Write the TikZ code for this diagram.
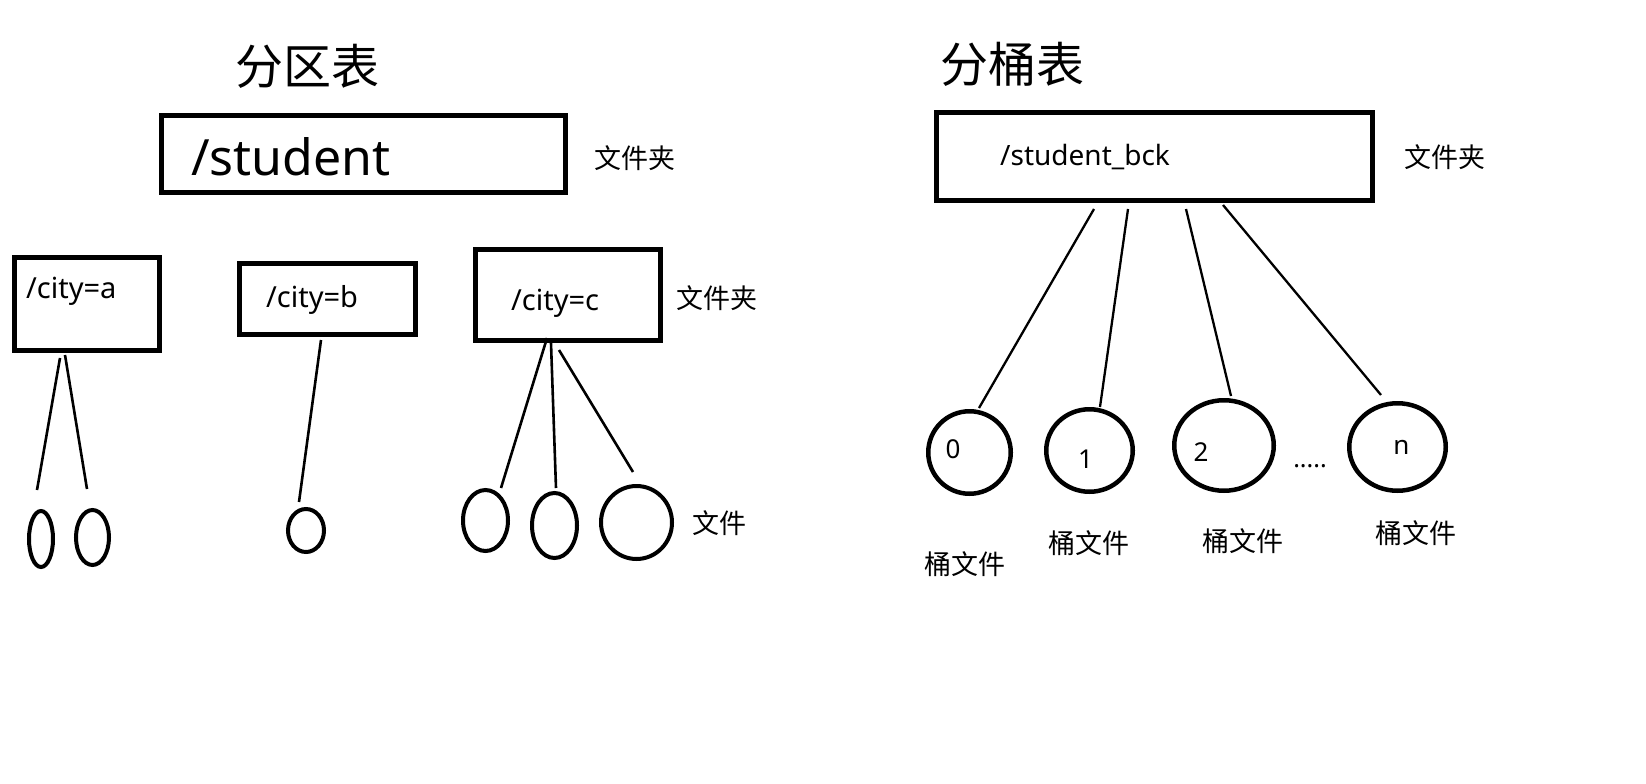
\documentclass[tikz,border=0pt]{standalone}
\usepackage{fontspec}
\setmainfont{Noto Sans}
\newfontfamily\cjk{Noto Sans CJK SC}
\usetikzlibrary{shapes.geometric}
\newcommand{\fs}[1]{\fontsize{#1}{#1}\selectfont}
\begin{document}
\begin{tikzpicture}[x=1pt,y=-1pt,
  folder/.style={draw, line width=4.6pt, rectangle, inner sep=0pt},
  leaf/.style={draw, line width=4pt, ellipse, inner sep=0pt},
  bucket/.style={draw, line width=4.5pt, ellipse, inner sep=0pt},
  conn/.style={line width=2.6pt},
  bconn/.style={line width=2.3pt},
  latin/.style={inner sep=0pt, anchor=base west},
  cjklabel/.style={inner sep=0pt, font=\cjk\fs{27}},
  title/.style={inner sep=0pt, font=\cjk\fs{48}},
  num/.style={inner sep=0pt, font=\fs{26}}]
\fill[white] (0,0) rectangle (1646,784);
\useasboundingbox (0,0) rectangle (1646,784);

% ---------- left: partition table ----------
\node[title] (t1) at (307.5,66.5) {分区表};
\node[folder, minimum width=404pt, minimum height=77pt] (stu) at (363.5,154) {};
\node[latin, font=\fs{50}] (stutxt) at (191,175) {/student};
\node[cjklabel] (f1) at (635,158) {文件夹};

\node[folder, minimum width=145.5pt, minimum height=93.5pt] (ca) at (87,304) {};
\node[latin, font=\fs{29}] (catxt) at (26,298) {/city=a};
\node[folder, minimum width=176.5pt, minimum height=71.5pt] (cb) at (327.5,299) {};
\node[latin, font=\fs{29}] (cbtxt) at (266,307) {/city=b};
\node[folder, minimum width=185.5pt, minimum height=91.5pt] (cc) at (568,295) {};
\node[latin, font=\fs{29}] (cctxt) at (511,310) {/city=c};
\node[cjklabel] (f2) at (716.5,298) {文件夹};

\node[leaf, minimum width=24pt, minimum height=56pt] (a1) at (41,539) {};
\node[leaf, minimum width=33pt, minimum height=55pt] (a2) at (92.5,537.5) {};
\node[leaf, minimum width=36pt, minimum height=43pt] (b1) at (306,530.5) {};
\node[leaf, minimum width=45pt, minimum height=61pt] (c1) at (485.5,520.5) {};
\node[leaf, minimum width=45pt, minimum height=65pt] (c2) at (554.5,525.5) {};
\node[leaf, minimum width=71pt, minimum height=73pt] (c3) at (636.5,522.5) {};
\node[cjklabel] (f3) at (719,523.5) {文件};

\coordinate (ca1s) at (60,358);  \coordinate (ca1e) at (37,490);
\coordinate (ca2s) at (65,355);  \coordinate (ca2e) at (87,489);
\coordinate (cb1s) at (321,340); \coordinate (cb1e) at (299,502);
\coordinate (cc1s) at (547,338); \coordinate (cc1e) at (501,488);
\coordinate (cc2s) at (551,343); \coordinate (cc2e) at (556,488);
\coordinate (cc3s) at (559,350); \coordinate (cc3e) at (633,472);
\draw[conn] (ca1s) -- (ca1e);
\draw[conn] (ca2s) -- (ca2e);
\draw[conn] (cb1s) -- (cb1e);
\draw[conn] (cc1s) -- (cc1e);
\draw[conn] (cc2s) -- (cc2e);
\draw[conn] (cc3s) -- (cc3e);

% ---------- right: bucket table ----------
\node[title] (t2) at (1012,64.5) {分桶表};
\node[folder, minimum width=436pt, minimum height=88pt, line width=5pt] (bck) at (1154.5,156.5) {};
\node[latin, font=\fs{28}] (bcktxt) at (1000,165) {/student\_bck};
\node[cjklabel] (f4) at (1444.5,157) {文件夹};

\node[bucket, minimum width=82.5pt, minimum height=82.5pt] (k0) at (969.5,452.5) {};
\node[bucket, minimum width=86.5pt, minimum height=82.5pt] (k1) at (1089.5,450.5) {};
\node[bucket, minimum width=99.5pt, minimum height=90.5pt] (k2) at (1224,445.5) {};
\node[bucket, minimum width=96.5pt, minimum height=87.5pt] (kn) at (1397.5,447) {};
\node[num] (n0) at (953,449) {0};
\node[num] (n1) at (1085.5,459) {1};
\node[num] (n2) at (1201,452) {2};
\node[num] (nn) at (1401.5,447) {n};
\node[inner sep=0pt, anchor=base, font=\fs{25}] (dots) at (1310,467) {.....};

\node[cjklabel] (l0) at (965,564) {桶文件};
\node[cjklabel] (l1) at (1089,543) {桶文件};
\node[cjklabel] (l2) at (1243,541) {桶文件};
\node[cjklabel] (l3) at (1416,533) {桶文件};

\coordinate (k0s) at (1094,209); \coordinate (k0e) at (979,408);
\coordinate (k1s) at (1128,209); \coordinate (k1e) at (1100,407);
\coordinate (k2s) at (1186,209); \coordinate (k2e) at (1231,396);
\coordinate (kns) at (1223,205); \coordinate (kne) at (1381,395);
\draw[bconn] (k0s) -- (k0e);
\draw[bconn] (k1s) -- (k1e);
\draw[bconn] (k2s) -- (k2e);
\draw[bconn] (kns) -- (kne);
\end{tikzpicture}
\end{document}
